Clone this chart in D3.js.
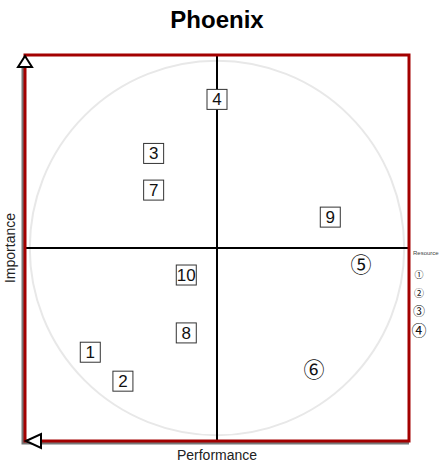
<!DOCTYPE html>
<html>
<head>
<meta charset="utf-8">
<script src="https://cdn.jsdelivr.net/npm/d3@7"></script>
<style>
  html, body { margin: 0; padding: 0; background: #fff; }
  svg text { font-family: "Liberation Sans", Arial, sans-serif; }
  svg text.circ, svg text.leg { font-family: "Noto Sans CJK JP", sans-serif; }
</style>
</head>
<body>
<div id="chart"></div>
<script>
const ids = ["1", "2", "3", "4", "5", "6", "7", "8", "9", "10"];
const performance = [-0.66, -0.49, -0.33, 0.0, 0.75, 0.505, -0.33, -0.16, 0.59, -0.16];
const importance = [-0.54, -0.69, 0.49, 0.77, -0.08, -0.62, 0.30, -0.44, 0.16, -0.14];
const markType = ["box", "box", "box", "box", "circle", "circle", "box", "box", "box", "box"];
const circledLabels = { "5": "⑤", "6": "⑥" };
const legendLabels = ["①", "②", "③", "④"];
const legendSizes = [9, 10, 12, 15];

const width = 441, height = 464;
const margin = { top: 55, right: 32, bottom: 23, left: 25 };
const svg = d3.select("#chart").append("svg").attr("width", width).attr("height", height);

const x = d3.scaleLinear().domain([-1, 1]).range([margin.left, width - margin.right]);
const y = d3.scaleLinear().domain([-1, 1]).range([height - margin.bottom, margin.top]);
const red = "#a30000";

// title + axis titles
svg.append("text").attr("x", 217).attr("y", 28).attr("text-anchor", "middle")
  .attr("font-size", 24).attr("font-weight", "bold").text("Phoenix");
svg.append("text").attr("x", x(0)).attr("y", 460).attr("text-anchor", "middle")
  .attr("font-size", 14).attr("fill", "#222").text("Performance");
svg.append("text").attr("transform", `translate(15,${y(0)}) rotate(-90)`).attr("text-anchor", "middle")
  .attr("font-size", 14).attr("fill", "#222").text("Importance");

// background circle
svg.append("circle").attr("cx", x(0)).attr("cy", y(0)).attr("r", x(0.975) - x(0))
  .attr("fill", "none").attr("stroke", "#e8e8e8").attr("stroke-width", 2);

// quadrant lines
svg.append("line").attr("x1", x(0)).attr("x2", x(0)).attr("y1", y(1)).attr("y2", y(-1))
  .attr("stroke", "#000").attr("stroke-width", 2);
svg.append("line").attr("x1", x(-1)).attr("x2", x(1) + 1).attr("y1", y(0)).attr("y2", y(0))
  .attr("stroke", "#000").attr("stroke-width", 2);

// frame, with grey shadow on left and bottom
svg.append("path").attr("d", `M${x(-1) - 2},${y(1) + 10} L${x(-1) - 2},${y(-1) + 2} L${x(1)},${y(-1) + 2}`)
  .attr("fill", "none").attr("stroke", "#777").attr("stroke-width", 3);
svg.append("rect").attr("x", x(-1)).attr("y", y(1)).attr("width", x(1) - x(-1)).attr("height", y(-1) - y(1))
  .attr("fill", "none").attr("stroke", red).attr("stroke-width", 3);

// axis arrows
svg.append("path").attr("d", `M${x(-1)},${y(1) + 1} L${x(-1) - 7},${y(1) + 12} L${x(-1) + 7},${y(1) + 12} Z`)
  .attr("fill", "#fff").attr("stroke", "#000").attr("stroke-width", 2);
svg.append("path").attr("d", `M${x(-1) + 1},${y(-1)} L${x(-1) + 16},${y(-1) - 7} L${x(-1) + 16},${y(-1) + 7} Z`)
  .attr("fill", "#fff").attr("stroke", "#000").attr("stroke-width", 2);

// points
const pts = ids.map((id, i) => ({ id, px: performance[i], im: importance[i], type: markType[i] }));
const g = svg.append("g");
g.selectAll("rect.pt").data(pts.filter((d) => d.type === "box")).join("rect").attr("class", "pt")
  .attr("x", (d) => x(d.px) - 10).attr("y", (d) => y(d.im) - 10).attr("width", 20).attr("height", 20)
  .attr("fill", "#fff").attr("stroke", "#333").attr("stroke-width", 1);
g.selectAll("text.pt").data(pts.filter((d) => d.type === "box")).join("text").attr("class", "pt")
  .attr("x", (d) => x(d.px)).attr("y", (d) => y(d.im) + 6).attr("text-anchor", "middle")
  .attr("font-size", 17).attr("fill", "#111").text((d) => d.id);
g.selectAll("text.circ").data(pts.filter((d) => d.type === "circle")).join("text").attr("class", "circ")
  .attr("x", (d) => x(d.px)).attr("y", (d) => y(d.im)).attr("dominant-baseline", "central")
  .attr("text-anchor", "middle").attr("font-size", 21).attr("fill", "#111").text((d) => circledLabels[d.id]);

// legend
svg.append("text").attr("x", 413).attr("y", 255).attr("font-size", 6).attr("fill", "#444").text("Resource");
const ly = d3.scalePoint().domain(legendLabels).range([274, 329]);
svg.selectAll("text.leg").data(legendLabels).join("text").attr("class", "leg")
  .attr("x", 419).attr("y", (d) => ly(d)).attr("dominant-baseline", "central")
  .attr("text-anchor", "middle").attr("font-size", (d, i) => legendSizes[i]).attr("fill", "#111").text((d) => d);
</script>
</body>
</html>
